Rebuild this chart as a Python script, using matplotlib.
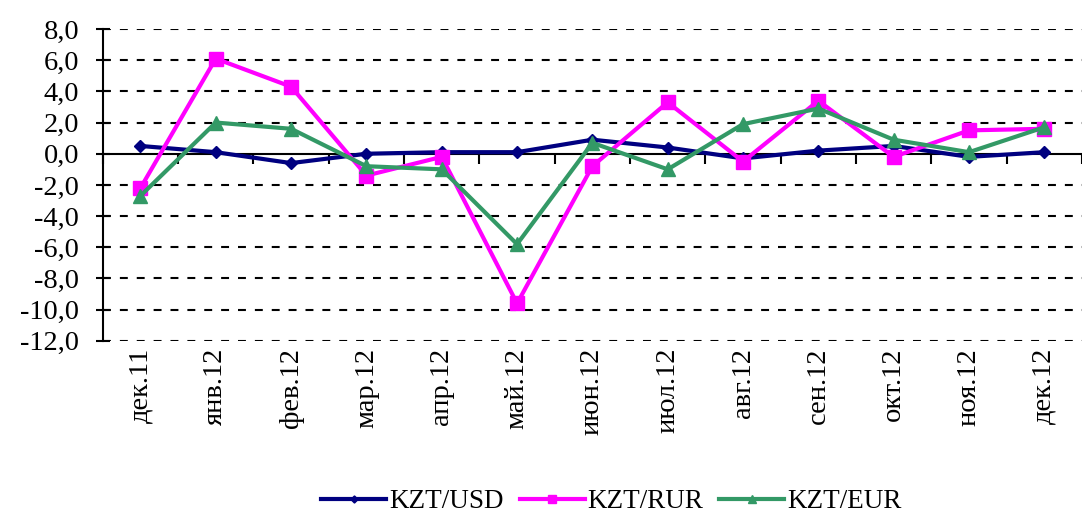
import matplotlib.pyplot as plt
import numpy as np
from matplotlib.ticker import FuncFormatter, MultipleLocator

months = ["дек.11", "янв.12", "фев.12", "мар.12", "апр.12", "май.12", "июн.12",
          "июл.12", "авг.12", "сен.12", "окт.12", "ноя.12", "дек.12"]
kzt_usd = [0.5, 0.1, -0.6, 0.0, 0.1, 0.1, 0.9, 0.4, -0.3, 0.2, 0.5, -0.2, 0.1]
kzt_rur = [-2.2, 6.1, 4.3, -1.4, -0.2, -9.6, -0.8, 3.3, -0.5, 3.4, -0.2, 1.5, 1.6]
kzt_eur = [-2.7, 2.0, 1.6, -0.8, -1.0, -5.8, 0.7, -1.0, 1.9, 2.9, 0.9, 0.1, 1.7]

plt.rcParams['font.family'] = ['Liberation Serif', 'DejaVu Serif']

fig = plt.figure(figsize=(10.82, 5.18), dpi=100)
ax = fig.add_axes([0.095, 0.342, 0.905, 0.602])

x = np.arange(len(months))
ax.plot(x, kzt_usd, color='#000080', lw=3, marker='D', ms=6, label='KZT/USD', zorder=3)
ax.plot(x, kzt_rur, color='#FF00FF', lw=3, marker='s', ms=10, label='KZT/RUR', zorder=4)
ax.plot(x, kzt_eur, color='#339966', lw=3, marker='^', ms=10, label='KZT/EUR', zorder=5)

ax.set_ylim(-12, 8)
ax.set_xlim(-0.5, len(months) - 0.5)
ax.yaxis.set_major_locator(MultipleLocator(2))
ax.yaxis.set_major_formatter(FuncFormatter(lambda v, p: f"{v:.1f}".replace('.', ',')))
ax.tick_params(axis='y', labelsize=20.5, direction='inout', length=10, width=1.5, pad=12)
for v in np.arange(-12, 8.1, 2):
    if v != 0:
        ax.axhline(v, color='black', lw=1.5, linestyle=(0, (3.8, 4.3)), zorder=1)

for s in ['top', 'right']:
    ax.spines[s].set_visible(False)
ax.spines['left'].set_linewidth(1.5)
ax.spines['bottom'].set_position(('data', 0))
ax.spines['bottom'].set_linewidth(1.5)
ax.set_xticks(np.arange(-0.5, len(months), 1))
ax.tick_params(axis='x', direction='out', length=7, width=1.5, labelbottom=False)

sec = ax.secondary_xaxis(0.0)
sec.set_xticks(x)
sec.set_xticklabels(months, rotation=90, fontsize=20.5)
sec.tick_params(length=0, pad=5)
sec.spines['bottom'].set_visible(False)

leg = fig.legend(loc='lower center', bbox_to_anchor=(0.565, -0.04), ncol=3, frameon=False,
                 fontsize=19.5, handlelength=2.4, columnspacing=0.6, handletextpad=0.1,
                 markerscale=0.6)

fig.savefig('out.png', dpi=100)
